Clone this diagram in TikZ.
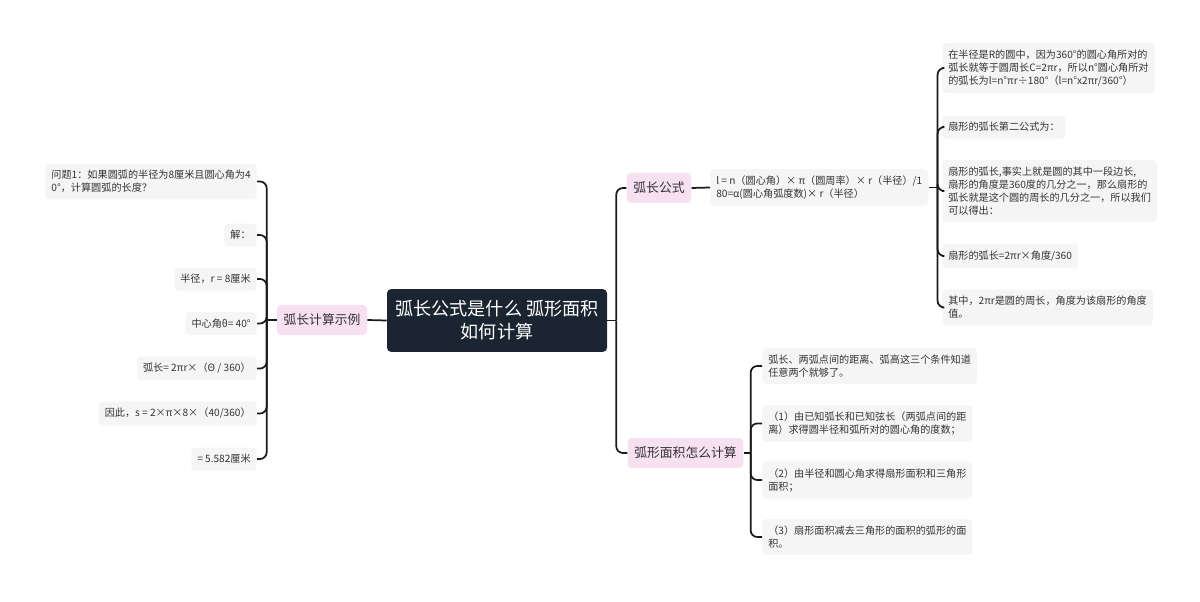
\documentclass[tikz,border=0pt]{standalone}
\usepackage{fontspec}
\setmainfont{Noto Sans CJK SC}
\usetikzlibrary{calc}
\definecolor{rootbg}{HTML}{1B2532}
\definecolor{pinkbg}{HTML}{F7E0F0}
\definecolor{leafbg}{HTML}{F5F5F5}
\definecolor{txt}{HTML}{333333}
\definecolor{linec}{HTML}{1A1A1A}
\tikzset{
  rootbox/.style={fill=rootbg, text=white, rounded corners=3pt, align=center,
    font=\fontsize{13.6pt}{17.2pt}\selectfont, minimum width=165pt, minimum height=47pt, inner sep=3pt},
  pinkbox/.style={fill=pinkbg, text=txt, rounded corners=3pt,
    font=\fontsize{9.6pt}{12pt}\selectfont, minimum height=22.5pt, inner xsep=5pt},
  leaf/.style={fill=leafbg, text=txt, rounded corners=3pt, align=left,
    font=\fontsize{7.6pt}{9.75pt}\selectfont, inner xsep=4.5pt, inner ysep=5pt},
  conn/.style={draw=linec, line width=1.3pt, rounded corners=5pt},
}
\begin{document}
\begin{tikzpicture}[x=0.75pt,y=-0.75pt]
\useasboundingbox (0,0) rectangle (1200,602);
% root
\node[rootbox] (root) at (497,320.5) {弧长公式是什么 弧形面积\\如何计算};
% level 1
\node[pinkbox] (ex) at (322,320) {弧长计算示例};
\node[pinkbox] (fa) at (659,188) {弧长公式};
\node[pinkbox] (fb) at (685.5,453) {弧形面积怎么计算};
% formula
\node[leaf, anchor=west] (f) at (710,187.5) {l = n（圆心角）× π（圆周率）× r（半径）/1\\80=α(圆心角弧度数)× r（半径）};
% right-top leaves
\node[leaf, anchor=west] (r1) at (942,68) {在半径是R的圆中，因为360°的圆心角所对的\\弧长就等于圆周长C=2πr，所以n°圆心角所对\\的弧长为l=n°πr÷180°（l=n°x2πr/360°）};
\node[leaf, anchor=west] (r2) at (942,127) {扇形的弧长第二公式为：};
\node[leaf, anchor=west] (r3) at (942,191) {扇形的弧长,事实上就是圆的其中一段边长,\\扇形的角度是360度的几分之一，那么扇形的\\弧长就是这个圆的周长的几分之一，所以我们\\可以得出：};
\node[leaf, anchor=west] (r4) at (942,256) {扇形的弧长=2πr×角度/360};
\node[leaf, anchor=west] (r5) at (942,307.5) {其中，2πr是圆的周长，角度为该扇形的角度\\值。};
% right-bottom leaves
\node[leaf, anchor=west] (b1) at (762,366) {弧长、两弧点间的距离、弧高这三个条件知道\\任意两个就够了。};
\node[leaf, anchor=west] (b2) at (762,423.5) {（1）由已知弧长和已知弦长（两弧点间的距\\离）求得圆半径和弧所对的圆心角的度数；};
\node[leaf, anchor=west] (b3) at (762,480) {（2）由半径和圆心角求得扇形面积和三角形\\面积；};
\node[leaf, anchor=west] (b4) at (762,537) {（3）扇形面积减去三角形的面积的弧形的面\\积。};
% left leaves
\node[leaf, anchor=east] (l1) at (257,181.5) {问题1：如果圆弧的半径为8厘米且圆心角为4\\0°，计算圆弧的长度？};
\node[leaf, anchor=east] (l2) at (257,235) {解：};
\node[leaf, anchor=east] (l3) at (257,279) {半径，r = 8厘米};
\node[leaf, anchor=east] (l4) at (257,323.5) {中心角θ= 40°};
\node[leaf, anchor=east] (l5) at (257,368.5) {弧长= 2πr×（Θ / 360）};
\node[leaf, anchor=east] (l6) at (257,413.5) {因此，s = 2×π×8×（40/360）};
\node[leaf, anchor=east] (l7) at (257,459) {= 5.582厘米};
% junctions
\coordinate (jR) at ($(root.east)+(9,0)$);
\coordinate (jF) at ($(f.east)+(9,0)$);
\coordinate (jB) at ($(fb.east)+(7,0)$);
\coordinate (jL) at ($(ex.west)+(-10,0)$);
% connectors
\draw[conn] (root.west) -- (ex.east);
\draw[conn] (root.east) -- (jR);
\draw[conn] (jR) |- (fa.west);
\draw[conn] (jR) |- (fb.west);
\draw[conn] (fa.east) -- (f.west);
\draw[conn] (f.east) -- (jF);
\foreach \n in {r1,r2,r3,r4,r5} \draw[conn] (jF) |- (\n.west);
\draw[conn] (fb.east) -- (jB);
\foreach \n in {b1,b2,b3,b4} \draw[conn] (jB) |- (\n.west);
\draw[conn] (ex.west) -- (jL);
\foreach \n in {l1,l2,l3,l4,l5,l6,l7} \draw[conn] (jL) |- (\n.east);
\end{tikzpicture}
\end{document}
